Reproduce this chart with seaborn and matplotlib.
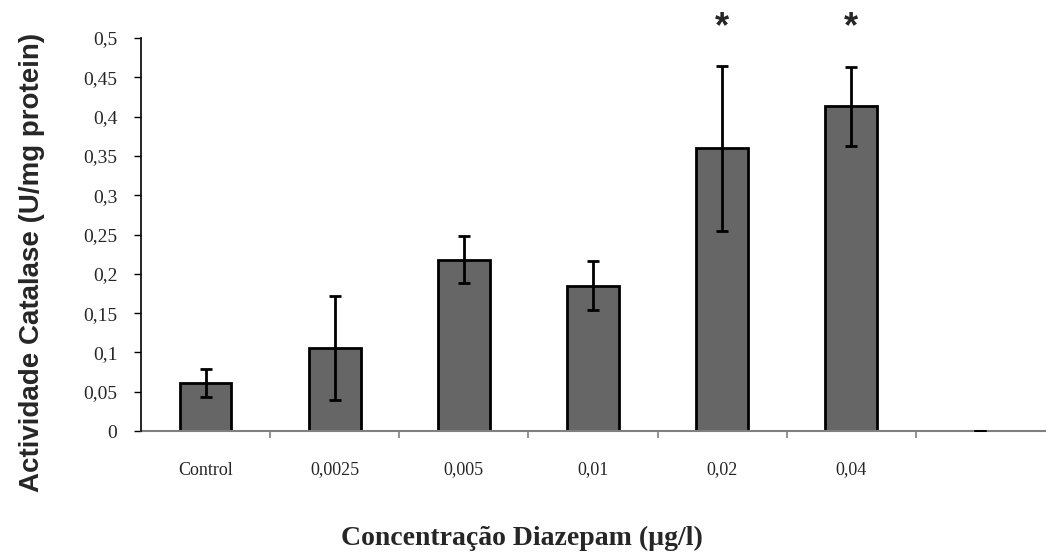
import pandas as pd
import matplotlib
matplotlib.use("Agg")
import matplotlib.pyplot as plt
import seaborn as sns
from matplotlib.ticker import FuncFormatter, FixedLocator

# Data
categories = ['Control', '0,0025', '0,005', '0,01', '0,02', '0,04', '']
activity = [0.061, 0.106, 0.218, 0.185, 0.360, 0.413, 0.0]
sd = [0.018, 0.066, 0.030, 0.031, 0.105, 0.050, 0.0]
significant = [False, False, False, False, True, True, False]

data = pd.DataFrame({'Concentracao': categories, 'Actividade': activity})

sns.set_style('white')
plt.rcParams['font.family'] = ['Liberation Serif', 'DejaVu Serif']

fig = plt.figure(figsize=(10.49, 5.55), dpi=100)
ax = fig.add_axes([141 / 1049, 1 - 431 / 555, 904 / 1049, (431 - 38) / 555])

sns.barplot(data=data, x='Concentracao', y='Actividade', color='#666666',
            saturation=1, width=0.4, edgecolor='black', linewidth=2,
            errorbar=None, ax=ax)

for s in ['top', 'right']:
    ax.spines[s].set_visible(False)
ax.spines['left'].set_color('black')
ax.spines['left'].set_linewidth(1.2)
ax.spines['bottom'].set_color('#808080')
ax.spines['bottom'].set_linewidth(1.5)
ax.spines['bottom'].set_zorder(1.5)

ax.errorbar(range(len(categories)), activity, yerr=sd, fmt='none',
            ecolor='black', elinewidth=2, capsize=4.5, capthick=2, zorder=3)

# significance stars
for i, s in enumerate(significant):
    if s:
        ax.text(i, 0.501, '*', ha='center', va='baseline', fontsize=26,
                fontweight='bold', family=['Liberation Sans', 'DejaVu Sans'],
                clip_on=False)

ax.set_ylim(0, 0.5)
ax.set_xlim(-0.5, len(categories) - 0.5)
ax.set_yticks([i * 0.05 for i in range(11)])
ax.yaxis.set_major_formatter(FuncFormatter(
    lambda v, p: '0' if v == 0 else ('%g' % round(v, 2)).replace('.', ',')))
ax.xaxis.set_minor_locator(FixedLocator([i + 0.5 for i in range(len(categories) - 1)]))

ax.tick_params(axis='y', which='major', direction='out', length=5, width=1,
               color='black', left=True, labelsize=14, pad=12)
ax.tick_params(axis='x', which='major', length=0, labelsize=13, pad=22)
ax.tick_params(axis='x', which='minor', direction='out', length=5, width=1.2,
               color='#808080', bottom=True)

ax.set_xlabel('Concentração Diazepam (µg/l)', fontsize=20, fontweight='bold')
ax.xaxis.set_label_coords((522 - 141) / 904, (431 - 545) / 393)
ax.xaxis.label.set_va('baseline')
ax.set_ylabel('Actividade Catalase (U/mg protein)', fontsize=20,
              fontweight='bold', family=['Liberation Sans Narrow', 'Liberation Sans', 'DejaVu Sans'])
ax.yaxis.set_label_coords((32 - 141) / 904, (431 - 262) / 393)
ax.yaxis.label.set_va('center')

fig.savefig('out.png', dpi=100, facecolor='white')
